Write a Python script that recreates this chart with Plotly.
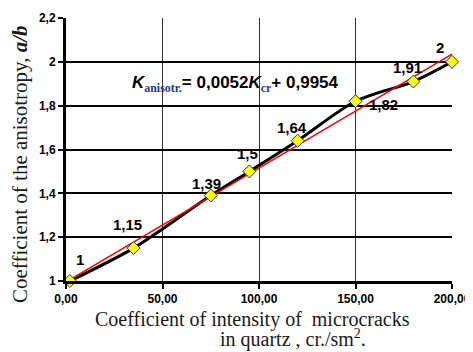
import plotly.graph_objects as go

# Data
x_vals = [2, 35, 75, 95, 120, 150, 180, 200]
y_vals = [1.0, 1.15, 1.39, 1.5, 1.64, 1.82, 1.91, 2.0]
point_labels = ["1", "1,15", "1,39", "1,5", "1,64", "1,82", "1,91", "2"]
trend_slope = 0.0052
trend_intercept = 0.9954
trend_x = [0, 200]
x_ticks = [0, 50, 100, 150, 200]
x_ticktext = ["0,00", "50,00", "100,00", "150,00", "200,00"]

# label offsets (pixels) - style only
label_dx = [10, -6, -4, -2, -6, 28, -6, -12]
label_dy = [22, 24, 12, 18, 13, -3, 14, 14]

SANS = "Liberation Sans, Arial, sans-serif"
SERIF = "Liberation Serif, Times New Roman, serif"

fig = go.Figure()

trend_y = [trend_slope * v + trend_intercept for v in trend_x]

fig.add_trace(go.Scatter(
    x=x_vals, y=y_vals, mode="lines",
    line=dict(color="black", width=3, shape="spline", smoothing=0.8),
    hoverinfo="skip", showlegend=False, cliponaxis=False))

fig.add_trace(go.Scatter(
    x=trend_x, y=trend_y, mode="lines",
    line=dict(color="#ff0000", width=1.5),
    showlegend=False, cliponaxis=False))

fig.add_trace(go.Scatter(
    x=x_vals, y=y_vals, mode="markers",
    marker=dict(symbol="diamond", size=10, color="#ffff00",
                line=dict(color="#1f2f6f", width=1)),
    showlegend=False, cliponaxis=False))

for xv, yv, t, dx, dy in zip(x_vals, y_vals, point_labels, label_dx, label_dy):
    fig.add_annotation(x=xv, y=yv, text="<b>%s</b>" % t, showarrow=False,
                       xshift=dx, yshift=dy,
                       font=dict(family=SANS, size=15, color="black"))

sub_style = "font-family:Liberation Serif, Times New Roman, serif;color:#1f3a7a"
eq = ("<b><i>K</i><sub><span style='%s'>anisotr.</span></sub>= 0,0052"
      "<i>K</i><sub><span style='%s'>cr</span></sub>+ 0,9954</b>") % (sub_style, sub_style)
fig.add_annotation(x=88, y=1.9, text=eq, showarrow=False,
                   font=dict(family=SANS, size=17, color="black"))

fig.add_annotation(xref="paper", yref="paper", x=-0.119, y=0.445, yanchor="middle",
                   xanchor="center",
                   text="Coefficient of the anisotropy, <b><i>a/b</i></b>",
                   textangle=-90, showarrow=False,
                   font=dict(family=SERIF, size=21, color="#1a1a1a"))

fig.add_annotation(xref="paper", yref="paper", x=0.482, y=-0.146, xanchor="center",
                   yanchor="middle",
                   text="Coefficient of intensity of  microcracks",
                   showarrow=False,
                   font=dict(family=SERIF, size=20, color="#1a1a1a"))
fig.add_annotation(xref="paper", yref="paper", x=0.588, y=-0.218, xanchor="center",
                   yanchor="middle",
                   text="in quartz , cr./sm<sup>2</sup>.",
                   showarrow=False,
                   font=dict(family=SERIF, size=20, color="#1a1a1a"))

fig.update_layout(
    width=465, height=344,
    margin=dict(l=58, r=21, t=10, b=71),
    paper_bgcolor="white", plot_bgcolor="white",
    separators=", ",
    xaxis=dict(range=[0, 200], tickvals=x_ticks, ticktext=x_ticktext,
               automargin=False,
               showgrid=True, gridcolor="#333333", gridwidth=1,
               showline=True, linecolor="black", linewidth=3, mirror=False,
               ticks="outside", ticklen=5, tickwidth=2, tickcolor="black",
               zeroline=False,
               tickfont=dict(family=SANS, size=12, color="black", weight="bold")),
    yaxis=dict(range=[1, 2.2], dtick=0.2, tick0=1,
               automargin=False,
               showgrid=True, gridcolor="black", gridwidth=2,
               showline=True, linecolor="black", linewidth=3,
               ticks="outside", ticklen=5, tickwidth=2, tickcolor="black",
               zeroline=False,
               tickfont=dict(family=SANS, size=12, color="black", weight="bold")),
)

fig.write_html("out.html")
